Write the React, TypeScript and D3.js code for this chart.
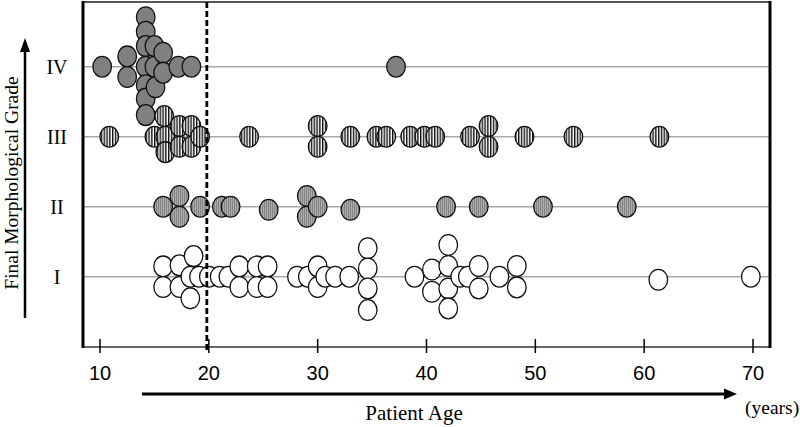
import React from "react";
import * as d3 from "d3";

// ---- data ----
const gradeLabels = ["I", "II", "III", "IV"];
const ageTicks = [10, 20, 30, 40, 50, 60, 70];
const cutoffAge = 20;

// Grade IV: patient ages and stacking level (in circle heights) within the swarm
const gradeIVAges = [10.2, 12.5, 12.5, 14.2, 14.2, 14.2, 14.2, 14.2, 14.2, 14.2, 15.0, 15.0, 15.1, 15.8, 15.8, 17.2, 18.4, 37.2];
const gradeIVStack = [0, -0.5, 0.5, -2.4, -1.7, -1.0, 0, 0.9, 1.55, 2.35, -1.0, 0, 1.0, -0.68, 0.29, 0, 0, 0];

const gradeIIIAges = [10.85, 15.0, 15.9, 16.0, 16.0, 17.3, 17.3, 18.4, 18.4, 19.2, 23.7, 30.0, 30.0, 33.0, 35.4, 36.3, 38.5, 39.8, 40.8, 44.0, 45.7, 45.7, 49.0, 53.5, 61.4];
const gradeIIIStack = [0, 0, -1.0, 0, 0.75, -0.52, 0.49, -0.52, 0.49, 0, 0, -0.52, 0.49, 0, 0, 0, 0, 0, 0, 0, -0.52, 0.49, 0, 0, 0];

const gradeIIAges = [15.8, 17.3, 17.3, 19.2, 21.2, 22.0, 25.5, 29.0, 29.0, 30.0, 33.0, 41.8, 44.8, 50.7, 58.4];
const gradeIIStack = [0, -0.52, 0.49, 0, 0, 0, 0.15, -0.52, 0.49, 0, 0.15, 0, 0, 0, 0];

const gradeIAges = [15.8, 15.8, 17.3, 17.3, 18.3, 18.3, 18.6, 19.1, 20.0, 21.0, 21.8, 22.8, 22.8, 24.4, 24.4, 25.4, 25.4, 28.1, 29.1, 30.0, 30.0, 30.7, 31.6, 32.9, 34.6, 34.6, 34.6, 34.6, 38.9, 40.5, 40.5, 42.0, 42.0, 42.0, 42.0, 43.1, 43.8, 44.8, 44.8, 46.7, 48.3, 48.3, 61.3, 69.8];
const gradeIStack = [-0.5, 0.5, -0.55, 0.5, 0, 1.05, -1.0, 0, 0, 0, 0, -0.5, 0.5, -0.5, 0.5, -0.5, 0.5, 0, 0, -0.5, 0.5, 0, 0, 0, -1.38, -0.4, 0.57, 1.62, 0, -0.35, 0.73, -1.54, -0.52, 0.57, 1.54, 0, 0, -0.52, 0.57, 0, -0.52, 0.52, 0.15, 0];

export default function App() {
  const W = 800;
  const H = 427;
  const frame = { left: 83, right: 770, top: 2, bottom: 347 };
  const x = d3.scaleLinear().domain([10, 70]).range([100, 753]);
  const y = d3.scalePoint<string>().domain(gradeLabels).range([276.7, 66.7]);
  const stackUnit = 20.6;
  const rx = 9.3;
  const ry = 10.4;

  const series = [
    { grade: "IV", ages: gradeIVAges, stack: gradeIVStack, fill: "#808080" },
    { grade: "III", ages: gradeIIIAges, stack: gradeIIIStack, fill: "url(#stripes)" },
    { grade: "II", ages: gradeIIAges, stack: gradeIIStack, fill: "url(#stipple)" },
    { grade: "I", ages: gradeIAges, stack: gradeIStack, fill: "#ffffff" },
  ];

  const serif = "'Liberation Serif', 'Times New Roman', serif";
  const sans = "'Liberation Sans', Arial, sans-serif";

  return (
    <svg
      width={W}
      height={H}
      viewBox={`0 0 ${W} ${H}`}
      style={{ position: "absolute", left: 0, top: 0, background: "#fff" }}
    >
      <defs>
        <pattern id="stripes" patternUnits="userSpaceOnUse" width={2.8} height={10}>
          <rect x={0} y={0} width={2.8} height={10} fill="#ffffff" />
          <rect x={0} y={0} width={1.4} height={10} fill="#111111" />
        </pattern>
        <pattern id="stipple" patternUnits="userSpaceOnUse" width={2} height={2}>
          <rect x={0} y={0} width={2} height={2} fill="#858585" />
          <rect x={1} y={0} width={1} height={2} fill="#ababab" />
        </pattern>
      </defs>

      {/* grid lines */}
      {gradeLabels.map((g) => (
        <line
          key={g}
          x1={frame.left}
          x2={frame.right}
          y1={y(g)}
          y2={y(g)}
          stroke="#a8a8a8"
          strokeWidth={1.5}
        />
      ))}

      {/* frame */}
      <line x1={frame.left} x2={frame.right} y1={frame.top} y2={frame.top} stroke="#555" strokeWidth={2} />
      <line x1={frame.left} x2={frame.right} y1={frame.bottom} y2={frame.bottom} stroke="#333" strokeWidth={1.5} />
      <line x1={frame.left} x2={frame.left} y1={frame.top - 1} y2={frame.bottom + 1} stroke="#000" strokeWidth={3} />
      <line x1={frame.right} x2={frame.right} y1={frame.top - 1} y2={frame.bottom + 1} stroke="#000" strokeWidth={3} />

      {/* x ticks */}
      {ageTicks.map((t) => (
        <g key={t}>
          <line x1={x(t)} x2={x(t)} y1={frame.bottom - 8} y2={frame.bottom + 6} stroke="#000" strokeWidth={1.5} />
          <text x={x(t)} y={380} textAnchor="middle" fontFamily={sans} fontSize={20} fill="#000">
            {t}
          </text>
        </g>
      ))}

      {/* points */}
      {series.map((s) => (
        <g key={s.grade}>
          {s.ages.map((a, i) => (
            <ellipse
              key={i}
              cx={x(a)}
              cy={(y(s.grade) as number) + s.stack[i] * stackUnit}
              rx={rx}
              ry={ry}
              fill={s.fill}
              stroke="#111"
              strokeWidth={1.3}
            />
          ))}
        </g>
      ))}

      {/* cutoff dashed line */}
      <line
        x1={x(cutoffAge) - 2}
        x2={x(cutoffAge) - 2}
        y1={frame.top}
        y2={frame.bottom + 6}
        stroke="#000"
        strokeWidth={2.8}
        strokeDasharray="6,3"
      />

      {/* grade labels */}
      {gradeLabels.map((g) => (
        <text
          key={g}
          x={57}
          y={(y(g) as number) + 7}
          textAnchor="middle"
          fontFamily={serif}
          fontSize={20}
          fill="#000"
        >
          {g}
        </text>
      ))}

      {/* y arrow and title */}
      <line x1={25} x2={25} y1={318} y2={50} stroke="#000" strokeWidth={2.5} />
      <path d="M25,38 L30,52 L20,52 Z" fill="#000" />
      <text
        transform="translate(18,183) rotate(-90)"
        textAnchor="middle"
        fontFamily={serif}
        fontSize={19.5}
        fill="#000"
      >
        Final Morphological Grade
      </text>

      {/* x arrow and title */}
      <line x1={142} x2={726} y1={394} y2={394} stroke="#000" strokeWidth={3} />
      <path d="M737,394 L724,388.5 L724,399.5 Z" fill="#000" />
      <text x={414} y={420} textAnchor="middle" fontFamily={serif} fontSize={21} fill="#000">
        Patient Age
      </text>
      <text x={745} y={414} fontFamily={serif} fontSize={19.5} fill="#000">
        (years)
      </text>
    </svg>
  );
}
